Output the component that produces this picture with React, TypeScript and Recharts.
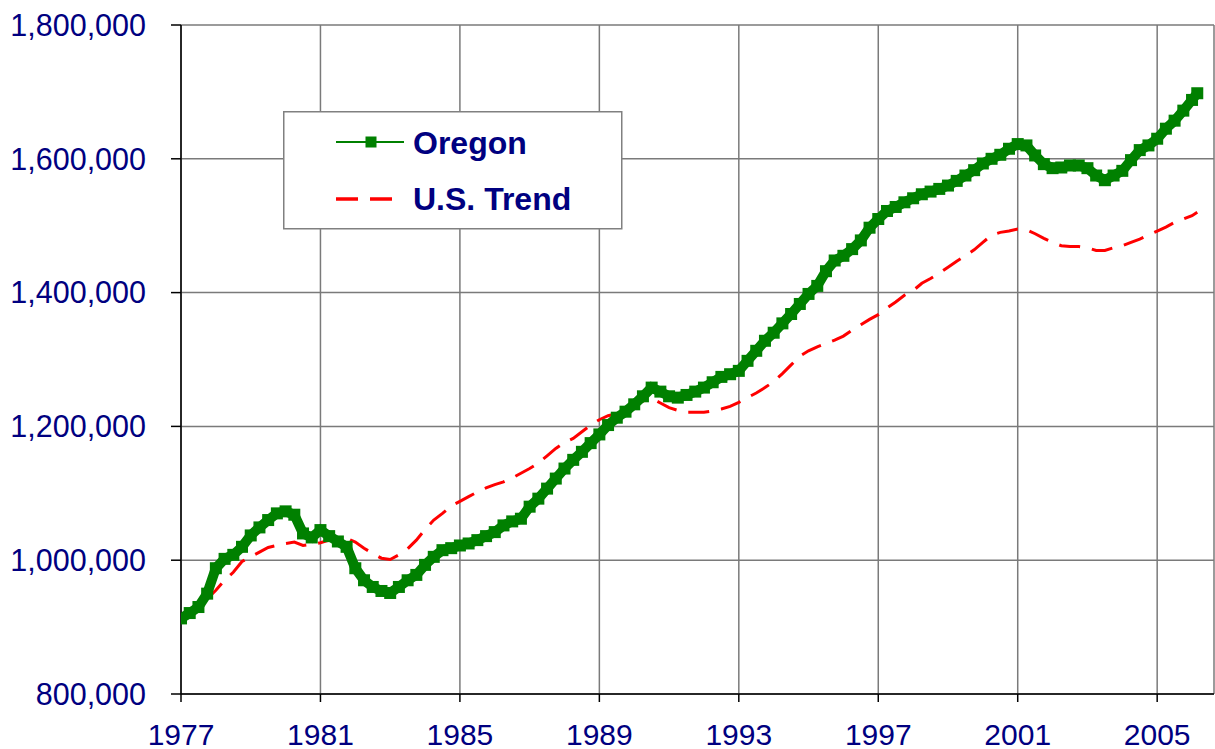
import React from 'react';
import { LineChart, Line, XAxis, YAxis, CartesianGrid, Legend } from 'recharts';

// Quarterly time points (decimal years), last point early 2006
const years: number[] = [
  ...Array.from({ length: 117 }, (_, i) => 1977 + i * 0.25),
  2006.15,
];

const oregon: number[] = [
  913000, 921000, 930000, 950000, // 1977
  988000, 1002000, 1008000, 1020000, // 1978
  1037000, 1049000, 1060000, 1070000, // 1979
  1073000, 1068000, 1040000, 1034000, // 1980
  1045000, 1036000, 1028000, 1020000, // 1981
  988000, 970000, 960000, 954000, // 1982
  951000, 960000, 970000, 978000, // 1983
  993000, 1005000, 1015000, 1018000, // 1984
  1022000, 1025000, 1030000, 1036000, // 1985
  1042000, 1052000, 1058000, 1062000, // 1986
  1080000, 1092000, 1107000, 1122000, // 1987
  1137000, 1150000, 1162000, 1175000, // 1988
  1188000, 1202000, 1213000, 1222000, // 1989
  1233000, 1245000, 1258000, 1252000, // 1990
  1245000, 1243000, 1247000, 1252000, // 1991
  1258000, 1266000, 1274000, 1278000, // 1992
  1283000, 1298000, 1313000, 1328000, // 1993
  1340000, 1354000, 1368000, 1383000, // 1994
  1398000, 1410000, 1432000, 1448000, // 1995
  1455000, 1465000, 1478000, 1497000, // 1996
  1510000, 1522000, 1528000, 1535000, // 1997
  1541000, 1547000, 1551000, 1555000, // 1998
  1560000, 1567000, 1575000, 1583000, // 1999
  1593000, 1600000, 1606000, 1615000, // 2000
  1622000, 1620000, 1605000, 1592000, // 2001
  1586000, 1587000, 1590000, 1590000, // 2002
  1586000, 1575000, 1568000, 1575000, // 2003
  1582000, 1598000, 1613000, 1620000, // 2004
  1630000, 1645000, 1657000, 1672000, // 2005
  1688000, 1698000, // 2006
];

const usTrend: number[] = [
  913000, 920000, 930000, 942000, // 1977
  955000, 970000, 982000, 998000, // 1978
  1005000, 1012000, 1019000, 1022000, // 1979
  1025000, 1027000, 1022000, 1024000, // 1980
  1026000, 1030000, 1033000, 1033000, // 1981
  1027000, 1018000, 1010000, 1003000, // 1982
  1001000, 1008000, 1017000, 1030000, // 1983
  1046000, 1060000, 1070000, 1081000, // 1984
  1088000, 1095000, 1102000, 1108000, // 1985
  1113000, 1117000, 1123000, 1130000, // 1986
  1137000, 1145000, 1156000, 1167000, // 1987
  1176000, 1182000, 1192000, 1202000, // 1988
  1210000, 1216000, 1219000, 1224000, // 1989
  1232000, 1238000, 1242000, 1235000, // 1990
  1228000, 1224000, 1221000, 1221000, // 1991
  1221000, 1223000, 1226000, 1230000, // 1992
  1236000, 1243000, 1250000, 1258000, // 1993
  1267000, 1279000, 1292000, 1305000, // 1994
  1313000, 1319000, 1324000, 1329000, // 1995
  1335000, 1344000, 1352000, 1360000, // 1996
  1367000, 1377000, 1386000, 1396000, // 1997
  1403000, 1414000, 1421000, 1429000, // 1998
  1438000, 1447000, 1455000, 1464000, // 1999
  1475000, 1486000, 1490000, 1492000, // 2000
  1495000, 1494000, 1488000, 1481000, // 2001
  1475000, 1470000, 1469000, 1469000, // 2002
  1467000, 1463000, 1463000, 1467000, // 2003
  1470000, 1475000, 1480000, 1486000, // 2004
  1492000, 1498000, 1505000, 1510000, // 2005
  1515000, 1520000, // 2006
];

const xTicks: number[] = [1977, 1981, 1985, 1989, 1993, 1997, 2001, 2005];
const yTicks: number[] = [800000, 1000000, 1200000, 1400000, 1600000, 1800000];

const data = years.map((year, i) => ({ year, oregon: oregon[i], usTrend: usTrend[i] }));

const NAVY = '#000080';
const FONT = '"Liberation Sans", Arial, sans-serif';

const LegendBox = () => (
  <svg width={340} height={119} style={{ display: 'block' }}>
    <rect x={0.75} y={0.75} width={338} height={117} fill="#ffffff" stroke="#808080" strokeWidth={1.5} />
    <line x1={53} y1={31} x2={121} y2={31} stroke="#008000" strokeWidth={2} />
    <rect x={82.5} y={25.5} width={11} height={11} fill="#008000" />
    <text x={130} y={43} fill={NAVY} fontFamily={FONT} fontWeight="bold" fontSize={32}>Oregon</text>
    <line x1={53} y1={88} x2={110} y2={88} stroke="#ff0000" strokeWidth={3.5} strokeDasharray="22 12" />
    <text x={130} y={99} fill={NAVY} fontFamily={FONT} fontWeight="bold" fontSize={32}>U.S. Trend</text>
  </svg>
);

const SquareDot = (props: any) => {
  const { cx, cy, index } = props;
  if (cx == null || cy == null) return <g key={index} />;
  return <rect key={index} x={cx - 6} y={cy - 6} width={12} height={12} fill="#008000" />;
};

export default function App() {
  return (
    <div style={{ position: 'absolute', left: 0, top: 0 }}>
      <LineChart
        width={1215}
        height={749}
        data={data}
        margin={{ top: 25, right: 1, bottom: 0, left: 0 }}
        style={{ fontFamily: FONT }}
      >
        <CartesianGrid stroke="#7a7a7a" strokeWidth={1.5} horizontal vertical />
        <XAxis
          dataKey="year"
          type="number"
          domain={[1977, 2006.63]}
          ticks={xTicks}
          allowDataOverflow
          height={55}
          axisLine={{ stroke: '#000000', strokeWidth: 1.5 }}
          tickLine={{ stroke: '#000000', strokeWidth: 1.5 }}
          tickSize={8}
          tickMargin={22}
          tick={{ fill: NAVY, fontSize: 30, fontFamily: FONT }}
          interval={0}
        />
        <YAxis
          type="number"
          domain={[800000, 1800000]}
          ticks={yTicks}
          width={181}
          axisLine={{ stroke: '#000000', strokeWidth: 1.5 }}
          tickLine={{ stroke: '#000000', strokeWidth: 1.5 }}
          tickSize={10}
          tickMargin={25}
          tick={{ fill: NAVY, fontSize: 30.5, fontFamily: FONT }}
          tickFormatter={(v: number) => v.toLocaleString('en-US')}
          interval={0}
        />
        <Legend
          layout="vertical"
          verticalAlign="middle"
          align="center"
          content={() => <LegendBox />}
          wrapperStyle={{ left: 283, top: 111, width: 340, height: 119 }}
        />
        <Line
          type="linear"
          dataKey="usTrend"
          name="U.S. Trend"
          stroke="#ff0000"
          strokeWidth={3}
          strokeDasharray="21 12"
          dot={false}
          activeDot={false}
          isAnimationActive={false}
        />
        <Line
          type="linear"
          dataKey="oregon"
          name="Oregon"
          stroke="#008000"
          strokeWidth={10}
          strokeLinejoin="miter"
          dot={SquareDot}
          activeDot={false}
          isAnimationActive={false}
        />
      </LineChart>
    </div>
  );
}
